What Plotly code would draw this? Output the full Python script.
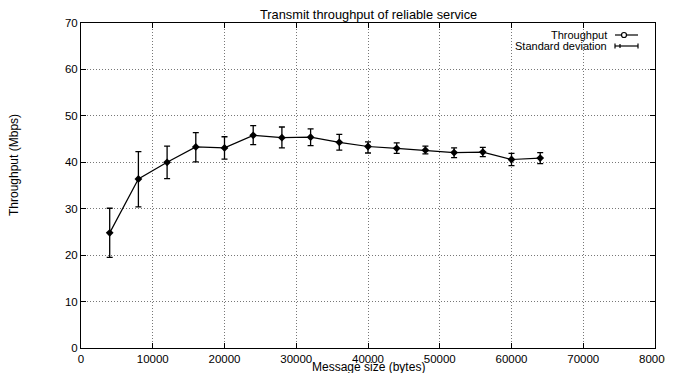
import plotly.graph_objects as go

# Data
message_size = [4000, 8000, 12000, 16000, 20000, 24000, 28000, 32000,
                36000, 40000, 44000, 48000, 52000, 56000, 60000, 64000]
throughput = [24.8, 36.4, 40.0, 43.3, 43.1, 45.8, 45.3, 45.4,
              44.3, 43.4, 43.0, 42.6, 42.1, 42.2, 40.6, 40.9]
err_upper = [30.1, 42.3, 43.5, 46.4, 45.5, 47.9, 47.6, 47.2,
             46.0, 44.4, 44.2, 43.5, 43.1, 43.2, 41.9, 42.1]
err_lower = [19.5, 30.4, 36.5, 40.1, 40.7, 43.8, 43.1, 43.6,
             42.6, 42.0, 41.9, 41.8, 41.0, 41.2, 39.3, 39.7]

x_ticks = [0, 10000, 20000, 30000, 40000, 50000, 60000, 70000, 80000]
y_ticks = [0, 10, 20, 30, 40, 50, 60, 70]

title_text = "Transmit throughput of reliable service"
x_title = "Message size (bytes)"
y_title = "Throughput (Mbps)"
legend_labels = ["Throughput", "Standard deviation"]

FONT = "Liberation Sans, Arial, Helvetica, sans-serif"
OFF = 8  # page body margin offset
W, H = 673, 365
# plot area in page pixels: x 81..655, y 23..348
L = 81 - OFF
T = 23 - OFF
R = W - (655 - OFF)
B = H - (348 - OFF)
PW, PH = W - L - R, H - T - B


def px(xp):
    return (xp - OFF - L) / PW


def py(yp):
    return (H - B - (yp - OFF)) / PH


err_plus = [u - m for u, m in zip(err_upper, throughput)]
err_minus = [m - l for m, l in zip(throughput, err_lower)]

fig = go.Figure()
fig.add_trace(go.Scatter(
    x=message_size, y=throughput, mode="lines+markers",
    line=dict(color="black", width=1.2),
    marker=dict(symbol="diamond", size=6, color="black"),
    error_y=dict(type="data", symmetric=False, array=err_plus,
                 arrayminus=err_minus, color="black", thickness=1.3, width=3),
    showlegend=False,
))

axis_common = dict(
    showline=True, linecolor="black", linewidth=1, mirror="ticks",
    ticks="inside", ticklen=5, tickcolor="black",
    showgrid=True, gridcolor="#777777", gridwidth=1, griddash="1px,2px",
    zeroline=False, automargin=False, ticklabeloverflow="allow",
    tickfont=dict(family=FONT, size=11.5, color="black"),
)

fig.update_xaxes(range=[0, 80000], tickvals=x_ticks,
                 ticktext=[str(v) for v in x_ticks], **axis_common)
fig.update_yaxes(range=[0, 70], tickvals=y_ticks,
                 ticktext=[str(v) for v in y_ticks], **axis_common)

annotations = [
    dict(text=title_text, x=0.5, y=py(14), xref="paper", yref="paper",
         showarrow=False, font=dict(family=FONT, size=12.8, color="black"),
         xanchor="center", yanchor="middle"),
    dict(text=x_title, x=0.5, y=py(366.5), xref="paper", yref="paper",
         showarrow=False, font=dict(family=FONT, size=12, color="black"),
         xanchor="center", yanchor="middle"),
    dict(text=y_title, x=px(14), y=py(165), xref="paper", yref="paper",
         showarrow=False, textangle=-90,
         font=dict(family=FONT, size=12, color="black"),
         xanchor="center", yanchor="middle"),
    dict(text=legend_labels[0], x=px(609), y=py(35), xref="paper", yref="paper",
         showarrow=False, font=dict(family=FONT, size=11, color="black"),
         xanchor="right", yanchor="middle"),
    dict(text=legend_labels[1], x=px(609), y=py(46), xref="paper", yref="paper",
         showarrow=False, font=dict(family=FONT, size=11, color="black"),
         xanchor="right", yanchor="middle"),
]

shapes = [
    # legend sample: line with marker
    dict(type="line", xref="paper", yref="paper", x0=px(615), x1=px(638),
         y0=py(35), y1=py(35), line=dict(color="black", width=1.2)),
    dict(type="circle", xref="paper", yref="paper", x0=px(621.5), x1=px(626.5),
         y0=py(37.5), y1=py(32.5), line=dict(color="black", width=1.2),
         fillcolor="white"),
    # legend sample: error bar
    dict(type="line", xref="paper", yref="paper", x0=px(615), x1=px(638),
         y0=py(46), y1=py(46), line=dict(color="black", width=1.2)),
    dict(type="line", xref="paper", yref="paper", x0=px(615), x1=px(615),
         y0=py(43.5), y1=py(48.5), line=dict(color="black", width=1.2)),
    dict(type="line", xref="paper", yref="paper", x0=px(620), x1=px(620),
         y0=py(44), y1=py(48), line=dict(color="black", width=1.2)),
    dict(type="line", xref="paper", yref="paper", x0=px(638), x1=px(638),
         y0=py(43.5), y1=py(48.5), line=dict(color="black", width=1.2)),
]

fig.update_layout(
    width=W, height=H,
    margin=dict(l=L, r=R, t=T, b=B, pad=0, autoexpand=False),
    paper_bgcolor="white", plot_bgcolor="white",
    font=dict(family=FONT, size=11, color="black"),
    annotations=annotations, shapes=shapes,
    showlegend=False,
)

fig.write_html("out.html")
